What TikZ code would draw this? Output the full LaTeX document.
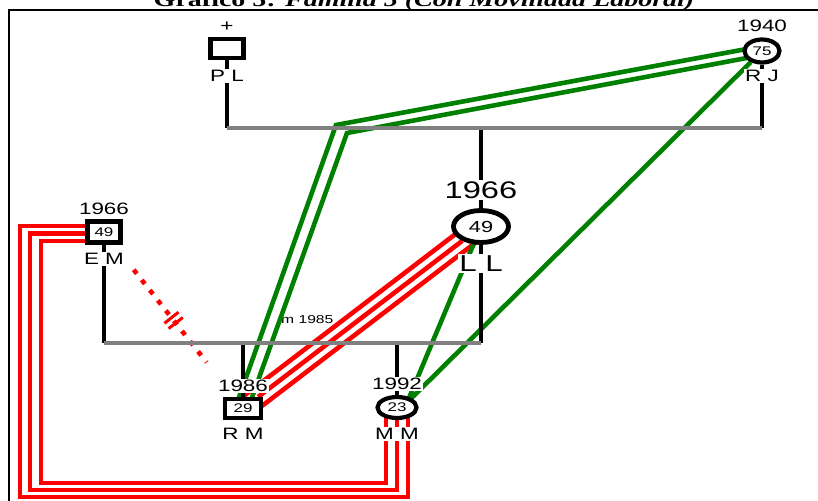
\documentclass[tikz,border=0pt]{standalone}
\usepackage{fontspec}
\setmainfont{Liberation Sans}
\newfontfamily\titlefont{Liberation Serif}
\usetikzlibrary{calc,backgrounds,shapes.geometric}
\definecolor{kingreen}{HTML}{008000}
\definecolor{bargray}{HTML}{808080}
\newcommand{\wide}[1]{\scalebox{1.36}[1]{#1}}

\begin{document}
\begin{tikzpicture}[
    x=1pt, y=-1pt,
    male/.style={rectangle,draw,line width=4.2pt,fill=white,minimum width=33pt,minimum height=19pt,inner sep=0pt,font=\fontsize{12.5}{13}\selectfont},
    female/.style={ellipse,draw,line width=4.2pt,fill=white,minimum width=35pt,minimum height=23pt,inner sep=0pt,font=\fontsize{12.5}{13}\selectfont},
    tag/.style={fill=white,inner sep=1.5pt,font=\fontsize{16.5}{18}\selectfont},
    couple line/.style={draw=bargray,line width=3.2pt},
    descent line/.style={draw,line width=3.2pt},
    red tie/.style={draw=red,line width=4.6pt},
    green tie/.style={draw=kingreen,line width=4.6pt},
    cut tie/.style={draw=red,line width=4.6pt,dash pattern=on 5pt off 8pt},
  ]
  \useasboundingbox (0,0) rectangle (818,500);

  \node[anchor=base] (title) at (424,7) {\titlefont\fontsize{20}{22}\selectfont\scalebox{1.4}[1]{\textbf{Gráfico 5:} \textbf{\textit{Familia 5 (Con Movilidad Laboral)}}}};

  % persons
  \node[male] (pl) at (227,48.5) {};
  \node[female] (rj) at (762,51) {\wide{75}};
  \node[female,minimum width=55pt,minimum height=32pt,line width=4.8pt,font=\fontsize{16}{17}\selectfont] (ll) at (481,226.5) {\wide{49}};
  \node[male,minimum height=21pt] (em) at (104,232) {\wide{49}};
  \node[male,minimum width=36pt] (rm) at (243,408.5) {\wide{29}};
  \node[female,minimum width=39pt,minimum height=21pt] (mm) at (397,407.5) {\wide{23}};

  % years and initials
  \node[tag] (pl-dead) at (227,26.5) {\wide{+}};
  \node[tag] (pl-name) at (227,76) {\wide{P L}};
  \node[tag] (rj-year) at (762,26) {\wide{1940}};
  \node[tag] (rj-name) at (762,76) {\wide{R J}};
  \node[tag,font=\fontsize{24}{26}\selectfont] (ll-year) at (481,190) {\wide{1966}};
  \node[tag,font=\fontsize{23}{25}\selectfont] (ll-name) at (481,263.5) {\wide{L L}};
  \node[tag] (em-year) at (104,209) {\wide{1966}};
  \node[tag] (em-name) at (104,259) {\wide{E M}};
  \node[tag] (rm-year) at (243,386) {\wide{1986}};
  \node[tag] (rm-name) at (243,434) {\wide{R M}};
  \node[tag] (mm-year) at (397,384) {\wide{1992}};
  \node[tag] (mm-name) at (397,434) {\wide{M M}};

  \coordinate (topbar) at (0,128);
  \coordinate (lowbar) at (0,343);
  \coordinate (bendA) at (336,125);
  \coordinate (bendB) at (347,133);

  \begin{scope}[on background layer]
    \draw[line width=2pt] (9,10) rectangle (840,520);
    \node[anchor=west,inner sep=0pt,font=\fontsize{11.5}{12}\selectfont] (marriage) at (281,320) {\wide{m 1985}};

    % red ties
    \draw[red tie] ($(em)+(0,-6)$) -- ++(-84,0) |- ($(mm)+(11,89.5)$) -- ($(mm)+(11,0)$);
    \draw[red tie] ($(em)+(0,1.5)$) -- ++(-74,0) |- ($(mm)+(0,82.5)$) -- (mm);
    \draw[red tie] ($(em)+(0,9)$) -- ++(-63,0) |- ($(mm)+(-11,75.5)$) -- ($(mm)+(-11,0)$);
    \draw[red tie] ($(rm)!9.5pt!90:(ll)$) -- ($(ll)!9.5pt!-90:(rm)$);
    \draw[red tie] (rm) -- (ll);
    \draw[red tie] ($(rm)!9.5pt!-90:(ll)$) -- ($(ll)!9.5pt!90:(rm)$);

    % green ties
    \draw[green tie] ($(rj)+(-10,-3)$) -- (bendA) -- ($(rm)+(-8,0)$);
    \draw[green tie] ($(rj)+(-10,6)$) -- (bendB) -- ($(rm)+(5,0)$);
    \draw[green tie] (rj) -- ($(mm)+(8,-3)$);
    \draw[green tie] (ll) -- ($(mm)+(8,0)$);

    % broken tie
    \draw[cut tie,shorten <=32pt,shorten >=44pt] (em) -- (rm);
    \path (em) -- (rm) coordinate[pos=0.48] (cutA) coordinate[pos=0.515] (cutB);
    \draw[red,line width=3pt] ($(cutA)!9pt!90:(rm)$) -- ($(cutA)!9pt!-90:(rm)$);
    \draw[red,line width=3pt] ($(cutB)!9pt!90:(rm)$) -- ($(cutB)!9pt!-90:(rm)$);

    % family lines
    \draw[descent line] (pl) -- (pl |- topbar);
    \draw[descent line] (rj) -- (rj |- topbar);
    \draw[descent line] (ll |- topbar) -- (ll |- lowbar);
    \draw[descent line] (em) -- (em |- lowbar);
    \draw[descent line] (rm |- lowbar) -- (rm);
    \draw[descent line] (mm |- lowbar) -- (mm);
    \draw[couple line] (pl |- topbar) -- (rj |- topbar);
    \draw[couple line] (em |- lowbar) -- (ll |- lowbar);
  \end{scope}
\end{tikzpicture}
\end{document}
